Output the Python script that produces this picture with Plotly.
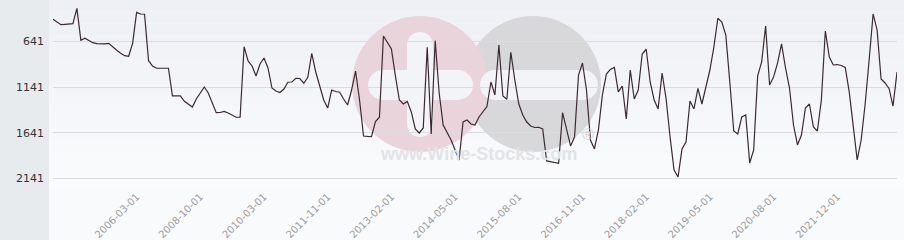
import plotly.graph_objects as go

rank = [
    400, 433, 459, 455, 452, 448, 280, 630, 608, 634,
    656, 667, 670, 670, 663, 706, 739, 772, 798, 805,
    663, 324, 342, 345, 853, 911, 936, 936, 936, 936,
    1239, 1236, 1239, 1297, 1327, 1360, 1272, 1206, 1141, 1206,
    1316, 1422, 1420, 1409, 1425, 1447, 1472, 1472, 700, 856,
    911, 1020, 889, 824, 933, 1152, 1185, 1201, 1163, 1089,
    1086, 1046, 1048, 1100, 1035, 772, 977, 1130, 1283, 1371,
    1174, 1190, 1198, 1272, 1338, 1174, 966, 1283, 1677, 1682,
    1685, 1520, 1472, 583, 648, 725, 1020, 1283, 1327, 1299,
    1414, 1600, 1644, 1589, 706, 1655, 634, 1206, 1557, 1644,
    1721, 1830, 1939, 1524, 1502, 1546, 1557, 1469, 1414, 1355,
    1086, 1228, 681, 1239, 1275, 761, 1064, 1327, 1447, 1524,
    1567, 1584, 1582, 1600, 1950, 1956, 1967, 1976, 1422, 1589,
    1786, 1688, 1010, 878, 1174, 1721, 1819, 1611, 1228, 999,
    949, 927, 1195, 1130, 1491, 955, 1272, 1174, 780, 728,
    1086, 1283, 1381, 988, 1269, 1688, 2049, 2125, 1819, 1743,
    1294, 1381, 1157, 1327, 1152, 955, 703, 389, 430, 572,
    1086, 1622, 1655, 1469, 1447, 1972, 1830, 1020, 867, 473,
    1119, 1031, 878, 670, 933, 1152, 1557, 1775, 1666, 1371,
    1327, 1578, 1622, 1283, 528, 813, 900, 895, 906, 927,
    1195, 1589, 1939, 1721, 1327, 845, 342, 517, 1053, 1097,
    1157, 1349, 977,
]

tick_labels = [
    "2006-03-01", "2008-10-01", "2010-03-01", "2011-11-01",
    "2013-02-01", "2014-05-01", "2015-08-01", "2016-11-01",
    "2018-02-01", "2019-05-01", "2020-08-01", "2021-12-01",
]
y_ticks = [641, 1141, 1641, 2141]

# ---- layout constants ----
W, H = 904, 240
L, R, T, B = 53, 7, 0, 52
PW, PH = W - L - R, H - T - B
FIRST_TICK, TICK_STEP = 21, 16


def px(x):
    return (x - L) / PW


def py(y):
    return (H - B - y) / PH


shapes = []
# left grey panel
shapes.append(dict(type="rect", xref="paper", yref="paper",
                   x0=px(0), x1=px(49), y0=py(H), y1=py(0),
                   fillcolor="#e8ebee", line=dict(width=0), layer="below"))
# plot-area vertical gradient
n = 16
c0, c1 = (238, 240, 245), (250, 251, 253)
for k in range(n):
    t = k / (n - 1)
    col = tuple(round(c0[j] + (c1[j] - c0[j]) * t) for j in range(3))
    shapes.append(dict(type="rect", xref="paper", yref="paper",
                       x0=px(49), x1=px(W), y0=py(PH * (k + 1) / n), y1=py(PH * k / n),
                       fillcolor="rgb(%d,%d,%d)" % col, line=dict(width=0), layer="below"))


def circ(cx, cy, r, color):
    return dict(type="circle", xref="paper", yref="paper",
                x0=px(cx - r), x1=px(cx + r), y0=py(cy + r), y1=py(cy - r),
                fillcolor=color, line=dict(width=0), layer="below")


def rect(x0, y0, x1, y1, color):
    return dict(type="rect", xref="paper", yref="paper",
                x0=px(x0), x1=px(x1), y0=py(y1), y1=py(y0),
                fillcolor=color, line=dict(width=0), layer="below")


PINK, GREY, HOLE = "#ead4dc", "#d8d8da", "#f3f4f7"
# watermark logo
shapes.append(circ(533, 84, 68, GREY))
shapes.append(circ(420, 84, 68, PINK))
# plus sign in pink circle
shapes.append(rect(383, 70, 458, 100, HOLE))
shapes.append(circ(383, 85, 15, HOLE))
shapes.append(circ(458, 85, 15, HOLE))
shapes.append(rect(407, 45, 433, 124, HOLE))
shapes.append(circ(420, 45, 13, HOLE))
shapes.append(circ(420, 124, 13, HOLE))
# minus sign in grey circle
shapes.append(rect(495, 70, 583, 100, HOLE))
shapes.append(circ(495, 85, 15, HOLE))
shapes.append(circ(583, 85, 15, HOLE))

annotations = [
    dict(text="www.Wine-Stocks.com", xref="paper", yref="paper",
         x=px(478), y=py(166), showarrow=False,
         font=dict(family="Liberation Sans", size=18, color="#e2e3e6", weight="bold")),
    dict(text="®", xref="paper", yref="paper", x=px(588), y=py(145), showarrow=False,
         font=dict(family="Liberation Sans", size=16, color="#d6d6d8")),
]

xs = list(range(len(rank)))
tickvals = [FIRST_TICK + TICK_STEP * k for k in range(len(tick_labels))]

fig = go.Figure(go.Scatter(x=xs, y=rank, mode="lines",
                           line=dict(color="#3b2a31", width=1.2),
                           hoverinfo="skip"))

fig.update_layout(
    width=W, height=H,
    margin=dict(l=L, r=R, t=T, b=B),
    paper_bgcolor="#f9fafc",
    plot_bgcolor="rgba(0,0,0,0)",
    showlegend=False,
    shapes=shapes,
    annotations=annotations,
    font=dict(family="DejaVu Sans"),
    xaxis=dict(range=[0, len(rank) - 1], tickmode="array", tickvals=tickvals,
               ticktext=tick_labels, tickangle=-45, showgrid=False, zeroline=False,
               showline=False, ticks="",
               tickfont=dict(family="DejaVu Sans", size=10, color="#9c9c9c")),
    yaxis=dict(range=[2246, 189], tickmode="array", tickvals=y_ticks,
               ticktext=[str(v) for v in y_ticks], showgrid=True,
               gridcolor="#dcdcdf", gridwidth=1, zeroline=False, showline=False,
               ticks="", ticklabelstandoff=8,
               tickfont=dict(family="DejaVu Sans", size=11, color="#333333")),
)

fig.write_html("out.html")
